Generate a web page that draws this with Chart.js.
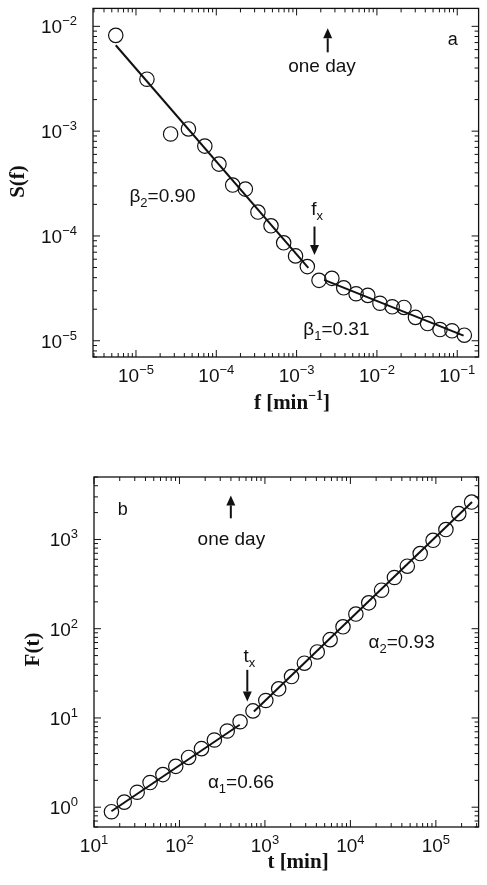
<!DOCTYPE html>
<html>
<head>
<meta charset="utf-8">
<script src="https://cdn.jsdelivr.net/npm/chart.js@4/dist/chart.umd.min.js"></script>
<style>
  html, body { margin: 0; padding: 0; background: #fff; }
  canvas { display: block; }
</style>
</head>
<body>
<canvas id="grafA" width="487" height="425"></canvas>
<canvas id="grafB" width="487" height="460"></canvas>
<script>
// panel a: power spectrum S(f)
const fA = [5.6e-6, 1.37e-5, 2.7e-5, 4.5e-5, 7.2e-5, 1.08e-4, 1.6e-4, 2.3e-4, 3.3e-4, 4.8e-4,
  6.9e-4, 9.7e-4, 1.36e-3, 1.9e-3, 2.75e-3, 3.86e-3, 5.5e-3, 7.7e-3, 1.09e-2, 1.55e-2,
  2.17e-2, 3.02e-2, 4.27e-2, 6.1e-2, 8.6e-2, 0.1225];
const sA = [8.2e-3, 3.13e-3, 9.4e-4, 1.05e-3, 7.2e-4, 4.85e-4, 3.06e-4, 2.8e-4, 1.69e-4, 1.25e-4,
  8.6e-5, 6.45e-5, 5.1e-5, 3.77e-5, 3.94e-5, 3.2e-5, 2.81e-5, 2.71e-5, 2.28e-5, 2.11e-5,
  2.08e-5, 1.67e-5, 1.46e-5, 1.28e-5, 1.245e-5, 1.13e-5];
// fitted lines (end points)
const fitA2f = [5.6e-6, 1.4e-3], fitA2s = [6.6e-3, 4.96e-5];   // beta2 = 0.90
const fitA1f = [2.2e-3, 0.12],   fitA1s = [3.81e-5, 1.12e-5];  // beta1 = 0.31
const expA_x = [-5, -4, -3, -2, -1];
const expA_y = [-5, -4, -3, -2];

// panel b: fluctuation F(t)
const tB = [16, 22.6, 32, 45.3, 64, 90.5, 128, 181, 256, 362, 512, 724, 1024, 1448, 2048,
  2896, 4096, 5793, 8192, 11585, 16384, 23170, 32768, 46341, 65536, 92682, 131072, 185364, 262144];
const FB = [0.89, 1.14, 1.47, 1.89, 2.32, 2.87, 3.61, 4.53, 5.66, 7.14, 9.07, 12.0, 15.7, 21.2, 29.1,
  41.1, 54.9, 75.4, 105, 146, 195, 270, 375, 502, 695, 979, 1291, 1946, 2625];
const fitB1t = [16, 507],     fitB1F = [0.90, 8.4];    // alpha1 = 0.66
const fitB2t = [743, 265000], fitB2F = [11.8, 2625];   // alpha2 = 0.93
const expB_x = [1, 2, 3, 4, 5];
const expB_y = [0, 1, 2, 3];

const SANS = '"Liberation Sans", Arial, Helvetica, sans-serif';
const SERIF = '"Liberation Serif", "Times New Roman", serif';
const INK = '#111';

function fuente(p) {
  return (p.b ? 'bold ' : '') + p.s + 'px ' + (p.serif ? SERIF : SANS);
}

// draws a list of pieces (text, size, vertical offset) on one baseline
function textoRico(ctx, partes, x, y, align) {
  let w = 0;
  partes.forEach(p => { ctx.font = fuente(p); w += ctx.measureText(p.t).width; });
  let cx = align === 'right' ? x - w : align === 'center' ? x - w / 2 : x;
  ctx.textAlign = 'left';
  ctx.textBaseline = 'alphabetic';
  partes.forEach(p => {
    ctx.font = fuente(p);
    ctx.fillText(p.t, cx, y + (p.dy || 0));
    cx += ctx.measureText(p.t).width;
  });
}

function potencia(e) {
  const sup = e < 0 ? '\u2212' + Math.abs(e) : String(e);
  return [{ t: '10', s: 19 }, { t: sup, s: 13, dy: -8 }];
}

function flecha(ctx, x, y1, y2) {
  const dir = y2 > y1 ? 1 : -1;
  const cab = 10;
  ctx.strokeStyle = INK;
  ctx.lineWidth = 2;
  ctx.beginPath();
  ctx.moveTo(x, y1);
  ctx.lineTo(x, y2 - dir * cab);
  ctx.stroke();
  ctx.beginPath();
  ctx.moveTo(x - 4.5, y2 - dir * cab);
  ctx.lineTo(x + 4.5, y2 - dir * cab);
  ctx.lineTo(x, y2);
  ctx.closePath();
  ctx.fill();
}

const marco = {
  id: 'marco',
  afterDraw(chart, args, o) {
    const ctx = chart.ctx;
    const a = chart.chartArea;
    const sx = chart.scales.x, sy = chart.scales.y;
    ctx.save();
    ctx.fillStyle = INK;
    ctx.strokeStyle = INK;

    // box
    ctx.lineWidth = 1.3;
    ctx.strokeRect(a.left, a.top, a.right - a.left, a.bottom - a.top);

    // inward ticks on all four sides
    ctx.lineWidth = 1;
    const marcas = (scale, horizontal) => {
      const lo = Math.floor(Math.log10(scale.min)), hi = Math.ceil(Math.log10(scale.max));
      for (let e = lo; e <= hi; e++) {
        for (let m = 1; m <= 9; m++) {
          const v = m * Math.pow(10, e);
          if (v < scale.min || v > scale.max) continue;
          const p = scale.getPixelForValue(v);
          const L = m === 1 ? 7 : 4;
          ctx.beginPath();
          if (horizontal) {
            ctx.moveTo(p, a.bottom); ctx.lineTo(p, a.bottom - L);
            ctx.moveTo(p, a.top); ctx.lineTo(p, a.top + L);
          } else {
            ctx.moveTo(a.left, p); ctx.lineTo(a.left + L, p);
            ctx.moveTo(a.right, p); ctx.lineTo(a.right - L, p);
          }
          ctx.stroke();
        }
      }
    };
    marcas(sx, true);
    marcas(sy, false);

    // tick labels
    o.expX.forEach(e => {
      textoRico(ctx, potencia(e), sx.getPixelForValue(Math.pow(10, e)), a.bottom + 25, 'center');
    });
    o.expY.forEach(e => {
      textoRico(ctx, potencia(e), a.left - 16, sy.getPixelForValue(Math.pow(10, e)) + 7, 'right');
    });

    // axis titles
    textoRico(ctx, o.tituloX, o.tituloXpos[0], o.tituloXpos[1], 'center');
    ctx.save();
    ctx.translate(o.tituloYpos[0], o.tituloYpos[1]);
    ctx.rotate(-Math.PI / 2);
    textoRico(ctx, o.tituloY, 0, 7, 'center');
    ctx.restore();

    // annotations
    o.textos.forEach(tx => {
      textoRico(ctx, tx.partes, sx.getPixelForValue(tx.x), sy.getPixelForValue(tx.y), tx.align);
    });
    o.flechas.forEach(f => {
      flecha(ctx, sx.getPixelForValue(f.x), sy.getPixelForValue(f.desde), sy.getPixelForValue(f.hasta));
    });
    ctx.restore();
  }
};

function puntos(xs, ys) {
  return xs.map((x, i) => ({ x: x, y: ys[i] }));
}

function serieCirculos(xs, ys) {
  return {
    data: puntos(xs, ys),
    pointStyle: 'circle',
    pointRadius: 7.2,
    borderWidth: 1.2,
    pointBorderColor: INK,
    pointBackgroundColor: 'rgba(0,0,0,0)',
    showLine: false
  };
}

function serieRecta(xs, ys) {
  return {
    data: puntos(xs, ys),
    showLine: true,
    borderColor: INK,
    borderWidth: 2,
    pointRadius: 0
  };
}

function crearGrafico(id, cfg) {
  return new Chart(document.getElementById(id), {
    type: 'scatter',
    data: { datasets: cfg.datasets },
    options: {
      responsive: false,
      animation: false,
      devicePixelRatio: 1,
      layout: { padding: cfg.padding },
      scales: {
        x: {
          type: 'logarithmic', min: cfg.xmin, max: cfg.xmax,
          ticks: { display: false }, grid: { display: false }, border: { display: false },
          afterFit: s => { s.height = cfg.altoX; }
        },
        y: {
          type: 'logarithmic', min: cfg.ymin, max: cfg.ymax,
          ticks: { display: false }, grid: { display: false }, border: { display: false },
          afterFit: s => { s.width = cfg.anchoY; }
        }
      },
      plugins: {
        legend: { display: false },
        tooltip: { enabled: false },
        marco: cfg.marco
      }
    },
    plugins: [marco]
  });
}

const ann = (t, s, dy) => ({ t: t, s: s || 19, dy: dy || 0 });

crearGrafico('grafA', {
  datasets: [serieRecta(fitA2f, fitA2s), serieRecta(fitA1f, fitA1s), serieCirculos(fA, sA)],
  padding: { top: 8, right: 2, left: 0, bottom: 0 },
  xmin: 2.917e-6, xmax: 0.1845, ymin: 7.0e-6, ymax: 1.483e-2,
  altoX: 68, anchoY: 93,
  marco: {
    expX: expA_x, expY: expA_y,
    tituloX: [{ t: 'f [min', s: 21, b: true, serif: true }, { t: '\u22121', s: 14, b: true, serif: true, dy: -9 }, { t: ']', s: 21, b: true, serif: true }],
    tituloXpos: [292, 409],
    tituloY: [{ t: 'S(f)', s: 21, b: true, serif: true }],
    tituloYpos: [17, 181.5],
    textos: [
      { x: 2.07e-3, y: 3.65e-3, align: 'center', partes: [ann('one day')] },
      { x: 8.8e-2, y: 6.6e-3, align: 'center', partes: [ann('a', 18)] },
      { x: 1.52e-3, y: 1.585e-4, align: 'left', partes: [ann('f'), ann('x', 13, 5)] },
      { x: 8.28e-6, y: 2.11e-4, align: 'left', partes: [ann('\u03b2'), ann('2', 13, 5), ann('=0.90')] },
      { x: 1.21e-3, y: 1.14e-5, align: 'left', partes: [ann('\u03b2'), ann('1', 13, 5), ann('=0.31')] }
    ],
    flechas: [
      { x: 2.44e-3, desde: 5.65e-3, hasta: 9.57e-3 },
      { x: 1.67e-3, desde: 1.23e-4, hasta: 6.59e-5 }
    ]
  }
});

crearGrafico('grafB', {
  datasets: [serieRecta(fitB1t, fitB1F), serieRecta(fitB2t, fitB2F), serieCirculos(tB, FB)],
  padding: { top: 52, right: 2, left: 0, bottom: 0 },
  xmin: 10, xmax: 316228, ymin: 0.614, ymax: 5012,
  altoX: 58, anchoY: 94,
  marco: {
    expX: expB_x, expY: expB_y,
    tituloX: [{ t: 't [min]', s: 21, b: true, serif: true }],
    tituloXpos: [298, 443],
    tituloY: [{ t: 'F(t)', s: 21, b: true, serif: true }],
    tituloYpos: [31.5, 224.5],
    textos: [
      { x: 18.9, y: 1863, align: 'left', partes: [ann('b', 18)] },
      { x: 405, y: 861, align: 'center', partes: [ann('one day')] },
      { x: 560, y: 42.8, align: 'left', partes: [ann('t'), ann('x', 13, 5)] },
      { x: 16250, y: 60.9, align: 'left', partes: [ann('\u03b1'), ann('2', 13, 5), ann('=0.93')] },
      { x: 215, y: 1.66, align: 'left', partes: [ann('\u03b1'), ann('1', 13, 5), ann('=0.66')] }
    ],
    flechas: [
      { x: 399, desde: 1726, hasta: 3119 },
      { x: 622, desde: 34.6, hasta: 15.3 }
    ]
  }
});
</script>
</body>
</html>
